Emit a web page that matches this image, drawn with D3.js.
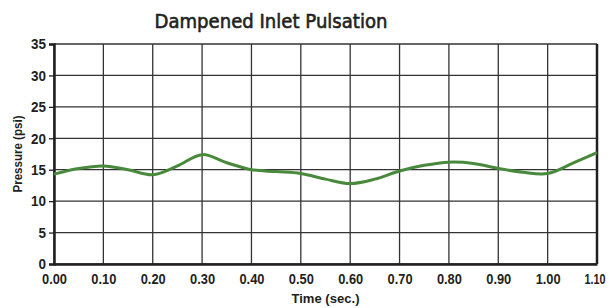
<!DOCTYPE html>
<html>
<head>
<meta charset="utf-8">
<script src="https://cdn.jsdelivr.net/npm/d3@7"></script>
<style>
  body { margin: 0; background: #fff; }
  svg text { font-family: "Liberation Sans", Arial, sans-serif; font-weight: bold; fill: #231f20; }
</style>
</head>
<body>
<svg id="chart"></svg>
<script>
const timeValues = [0.00, 0.05, 0.10, 0.15, 0.20, 0.25, 0.30, 0.35, 0.40, 0.45, 0.50, 0.55,
  0.60, 0.65, 0.70, 0.75, 0.80, 0.85, 0.90, 0.95, 1.00, 1.05, 1.10];
const pressureValues = [14.3, 15.2, 15.6, 15.0, 14.2, 15.6, 17.4, 16.1, 15.0, 14.7, 14.4, 13.5,
  12.8, 13.5, 14.8, 15.7, 16.2, 16.0, 15.2, 14.6, 14.4, 16.0, 17.7];
const xTicks = [0, 0.1, 0.2, 0.3, 0.4, 0.5, 0.6, 0.7, 0.8, 0.9, 1.0, 1.1];
const yTicks = [0, 5, 10, 15, 20, 25, 30, 35];

const width = 610;
const height = 308;
const margin = {top: 44, right: 13, bottom: 44, left: 54};

const svg = d3.select('#chart')
  .attr('width', width)
  .attr('height', height);

const x = d3.scaleLinear()
  .domain([0, 1.1])
  .range([margin.left, width - margin.right]);
const y = d3.scaleLinear()
  .domain([0, 35])
  .range([height - margin.bottom, margin.top]);

// grid
svg.append('g')
  .selectAll('line')
  .data(xTicks)
  .enter()
  .append('line')
  .attr('x1', d => x(d)).attr('x2', d => x(d))
  .attr('y1', y(0)).attr('y2', y(35))
  .attr('stroke', '#333')
  .attr('stroke-width', 1.3);
svg.append('g')
  .selectAll('line')
  .data(yTicks)
  .enter()
  .append('line')
  .attr('x1', x(0)).attr('x2', x(1.1))
  .attr('y1', d => y(d)).attr('y2', d => y(d))
  .attr('stroke', '#333')
  .attr('stroke-width', 1.3);

// right border
svg.append('line')
  .attr('x1', x(1.1)).attr('x2', x(1.1))
  .attr('y1', y(0)).attr('y2', y(35))
  .attr('stroke', '#231f20')
  .attr('stroke-width', 2.5);

// axes
const xAxis = svg.append('g')
  .attr('transform', 'translate(0,' + y(0) + ')')
  .call(d3.axisBottom(x).tickValues(xTicks).tickFormat(d3.format('.2f')).tickSize(0).tickPadding(9));
const yAxis = svg.append('g')
  .attr('transform', 'translate(' + x(0) + ',0)')
  .call(d3.axisLeft(y).tickValues(yTicks).tickSize(5).tickPadding(3));

[xAxis, yAxis].forEach(function (ax) {
  ax.select('.domain').attr('stroke', '#231f20').attr('stroke-width', 2.5);
  ax.selectAll('.tick line').attr('stroke', '#231f20').attr('stroke-width', 1.3);
  ax.selectAll('text')
    .style('font-size', '15px')
    .attr('fill', '#231f20')
    .attr('lengthAdjust', 'spacingAndGlyphs');
});
xAxis.selectAll('text').attr('textLength', d => d === 1.1 ? 21 : 25);
// last label sits against the right edge, anchor it at its end
xAxis.selectAll('.tick').filter(d => d === 1.1).select('text')
  .attr('text-anchor', 'end')
  .attr('dx', 8);
yAxis.selectAll('text').attr('textLength', d => d < 10 ? 7.5 : 15);

// pulsation line
const line = d3.line()
  .x((d, i) => x(timeValues[i]))
  .y(d => y(d))
  .curve(d3.curveCatmullRom.alpha(0.5));

svg.append('path')
  .datum(pressureValues)
  .attr('d', line)
  .attr('fill', 'none')
  .attr('stroke', '#48893c')
  .attr('stroke-width', 3);

// titles
svg.append('text')
  .attr('x', 271)
  .attr('y', 28)
  .attr('text-anchor', 'middle')
  .attr('textLength', 233)
  .attr('lengthAdjust', 'spacingAndGlyphs')
  .attr('stroke', '#231f20')
  .attr('stroke-width', 0.6)
  .style('font-family', '"DejaVu Sans", sans-serif')
  .style('font-weight', 'normal')
  .style('font-size', '19px')
  .text('Dampened Inlet Pulsation');

svg.append('text')
  .attr('x', (x(0) + x(1.1)) / 2)
  .attr('y', 303)
  .attr('text-anchor', 'middle')
  .attr('textLength', 68)
  .attr('lengthAdjust', 'spacingAndGlyphs')
  .style('font-size', '13.5px')
  .text('Time (sec.)');

svg.append('text')
  .attr('transform', 'translate(22,' + y(17.5) + ') rotate(-90)')
  .attr('text-anchor', 'middle')
  .attr('textLength', 77)
  .attr('lengthAdjust', 'spacingAndGlyphs')
  .style('font-size', '13.5px')
  .text('Pressure (psi)');
</script>
</body>
</html>
